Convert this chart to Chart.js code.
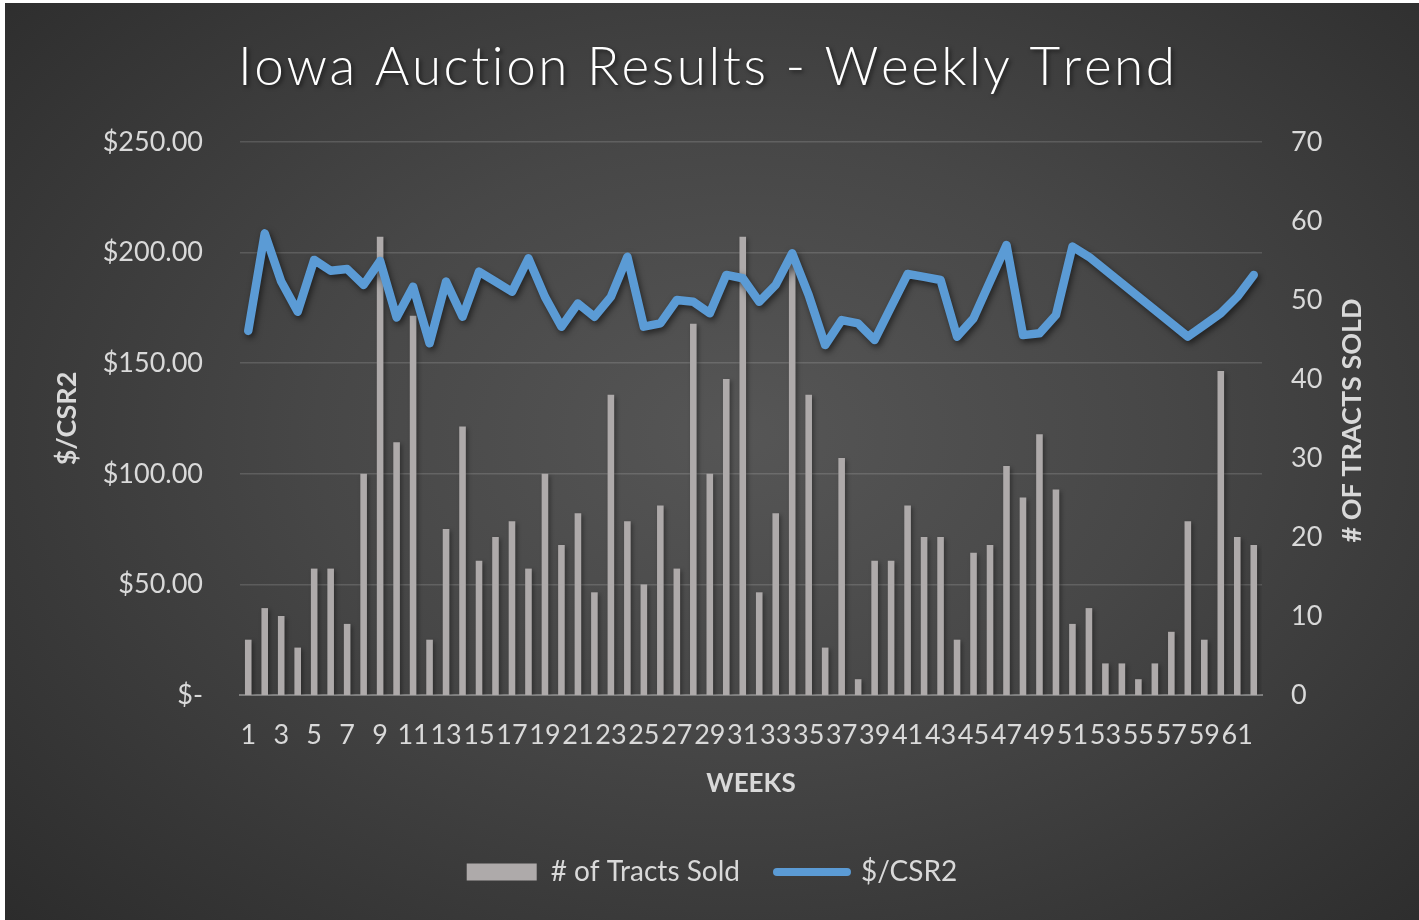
<!DOCTYPE html>
<html>
<head>
<meta charset="utf-8">
<script src="https://cdn.jsdelivr.net/npm/chart.js@4.4.0/dist/chart.umd.min.js"></script>
<style>
  html, body { margin: 0; padding: 0; background: #ffffff; }
  #wrap {
    position: absolute; left: 5px; top: 3px; width: 1414px; height: 917px;
    background: radial-gradient(ellipse 75% 80% at 52% 47%, #565656 0%, #474747 40%, #363636 75%, #2a2a2a 100%);
  }
  canvas { display: block; }
</style>
</head>
<body>
<div id="wrap"><canvas id="myChart" width="1414" height="917"></canvas></div>
<script>
// datos
const chartTitle = 'Iowa Auction Results - Weekly Trend';
const weeks = ['1','2','3','4','5','6','7','8','9','10','11','12','13','14','15','16','17','18','19','20',
  '21','22','23','24','25','26','27','28','29','30','31','32','33','34','35','36','37','38','39','40',
  '41','42','43','44','45','46','47','48','49','50','51','52','53','54','55','56','57','58','59','60','61','62'];
const tractsSold = [7,11,10,6,16,16,9,28,58,32, 48,7,21,34,17,20,22,16,28,19,
  23,13,38,22,14,24,16,47,28,40, 58,13,23,55,38,6,30,2,17,17,
  24,20,20,7,18,19,29,25,33,26, 9,11,4,4,2,4,8,22,7,41, 20,19];
// semanas 53-57 sin precio (la linea las salta)
const pricePerCSR2 = [164.6,208.7,186.9,173.3,196.7,191.8,192.6,185.4,196.2,170.7,
  184.6,159.0,186.9,171.0,191.4,186.9,182.3,197.4,180.0,166.5,
  177.0,171.0,180.0,198.1,166.5,168.0,178.6,177.8,172.6,189.9,
  188.4,177.8,185.4,199.7,180.8,158.2,169.5,168.0,160.5,175.5,
  190.3,189.0,187.6,162.0,170.3,186.9,203.4,162.7,163.5,171.8,
  202.7,198.1,null,null,null,null,null,162.0,167.3,172.6,180.0,189.9];
const priceTicks = ['$-','$50.00','$100.00','$150.00','$200.00','$250.00'];
const seriesNames = ['# of Tracts Sold', '$/CSR2'];
const axisTitles = ['$/CSR2', '# OF TRACTS SOLD', 'WEEKS'];

const barColor = '#aeaaaa';
const lineColor = '#5b9bd5';
const textColor = '#d9d9d9';
const fontFam = 'Lato, "Open Sans", sans-serif';

// sombras al estilo Excel
const shadowPlugin = {
  id: 'shadows',
  beforeDatasetDraw(chart, args) {
    const ctx = chart.ctx;
    ctx.save();
    if (args.meta.type === 'line') {
      ctx.shadowColor = 'rgba(0,0,0,0.55)';
      ctx.shadowBlur = 6;
      ctx.shadowOffsetX = 2;
      ctx.shadowOffsetY = 3;
    } else {
      ctx.shadowColor = 'rgba(0,0,0,0.35)';
      ctx.shadowBlur = 4;
      ctx.shadowOffsetX = 2;
      ctx.shadowOffsetY = 2;
    }
  },
  afterDatasetDraw(chart) {
    chart.ctx.restore();
  }
};

// titulo con espaciado y titulo del eje derecho (se lee de abajo hacia arriba)
const textPlugin = {
  id: 'extraText',
  afterDraw(chart) {
    const ctx = chart.ctx;
    ctx.save();
    ctx.font = '300 53px ' + fontFam;
    ctx.fillStyle = '#ffffff';
    ctx.textBaseline = 'alphabetic';
    ctx.textAlign = 'left';
    ctx.shadowColor = 'rgba(0,0,0,0.6)';
    ctx.shadowBlur = 4;
    ctx.shadowOffsetX = 2;
    ctx.shadowOffsetY = 2;
    const chars = [...chartTitle];
    const widths = chars.map(c => ctx.measureText(c).width);
    const total = widths.reduce((a, b) => a + b, 0);
    const target = 937;
    const gap = (target - total) / (chars.length - 1);
    let x = 701.5 - target / 2;
    chars.forEach((c, i) => {
      ctx.fillText(c, x, 82);
      x += widths[i] + gap;
    });
    ctx.restore();

    const area = chart.chartArea;
    ctx.save();
    ctx.font = 'bold 27px ' + fontFam;
    ctx.fillStyle = textColor;
    ctx.textAlign = 'center';
    ctx.textBaseline = 'middle';
    ctx.translate(area.right + 90, (area.top + area.bottom) / 2 + 2);
    ctx.rotate(-Math.PI / 2);
    ctx.fillText(axisTitles[1], 0, 0);
    ctx.restore();
  }
};

const ctx = document.getElementById('myChart').getContext('2d');
const chart = new Chart(ctx, {
  type: 'bar',
  data: {
    labels: weeks,
    datasets: [
      {
        type: 'bar',
        label: seriesNames[0],
        data: tractsSold,
        yAxisID: 'y1',
        backgroundColor: barColor,
        barPercentage: 0.4,
        categoryPercentage: 1.0,
        order: 1
      },
      {
        type: 'line',
        label: seriesNames[1],
        data: pricePerCSR2,
        yAxisID: 'y',
        borderColor: lineColor,
        backgroundColor: lineColor,
        borderWidth: 8.5,
        borderJoinStyle: 'round',
        borderCapStyle: 'round',
        pointRadius: 0,
        tension: 0,
        spanGaps: true,
        order: 0
      }
    ]
  },
  options: {
    responsive: false,
    animation: false,
    layout: { padding: { top: 139, left: 0, right: 0, bottom: 24 } },
    plugins: {
      tooltip: { enabled: false },
      title: { display: false },
      legend: {
        position: 'bottom',
        labels: {
          usePointStyle: true,
          pointStyleWidth: 70,
          boxHeight: 17,
          padding: 37,
          color: textColor,
          font: { family: fontFam, size: 28 },
          generateLabels: () => [
            { text: seriesNames[0], fillStyle: barColor, strokeStyle: barColor, lineWidth: 0,
              pointStyle: 'rect', fontColor: textColor, datasetIndex: 0, hidden: false },
            { text: seriesNames[1], fillStyle: lineColor, strokeStyle: lineColor, lineWidth: 8,
              lineCap: 'round', pointStyle: 'line', fontColor: textColor, datasetIndex: 1, hidden: false }
          ]
        }
      }
    },
    scales: {
      x: {
        grid: { display: false, drawTicks: false },
        border: { display: true, color: '#808080', width: 2 },
        ticks: {
          autoSkip: false,
          maxRotation: 0,
          minRotation: 0,
          padding: 24,
          color: textColor,
          font: { family: fontFam, size: 27 },
          callback: function (val, index) {
            return index % 2 === 0 ? this.getLabelForValue(val) : '';
          }
        },
        title: {
          display: true,
          text: axisTitles[2],
          color: textColor,
          font: { family: fontFam, size: 26, weight: 'bold' },
          padding: { top: 0, bottom: 22 }
        },
        afterFit: (scale) => { scale.height = 126; }
      },
      y: {
        position: 'left',
        min: 0,
        max: 250,
        grid: { color: 'rgba(255,255,255,0.14)', lineWidth: 1.5, drawTicks: false },
        border: { display: false },
        ticks: {
          stepSize: 50,
          padding: 37,
          color: textColor,
          font: { family: fontFam, size: 27 },
          callback: (v) => priceTicks[Math.round(v / 50)]
        },
        title: {
          display: true,
          text: axisTitles[0],
          color: textColor,
          font: { family: fontFam, size: 27, weight: 'bold' },
          padding: { top: 46, bottom: 0 }
        },
        afterFit: (scale) => { scale.width = 235; }
      },
      y1: {
        position: 'right',
        min: 0,
        max: 70,
        grid: { display: false, drawTicks: false },
        border: { display: false },
        ticks: {
          stepSize: 10,
          padding: 29,
          color: textColor,
          font: { family: fontFam, size: 27 }
        },
        afterFit: (scale) => { scale.width = 157; }
      }
    }
  },
  plugins: [shadowPlugin, textPlugin]
});
</script>
</body>
</html>
